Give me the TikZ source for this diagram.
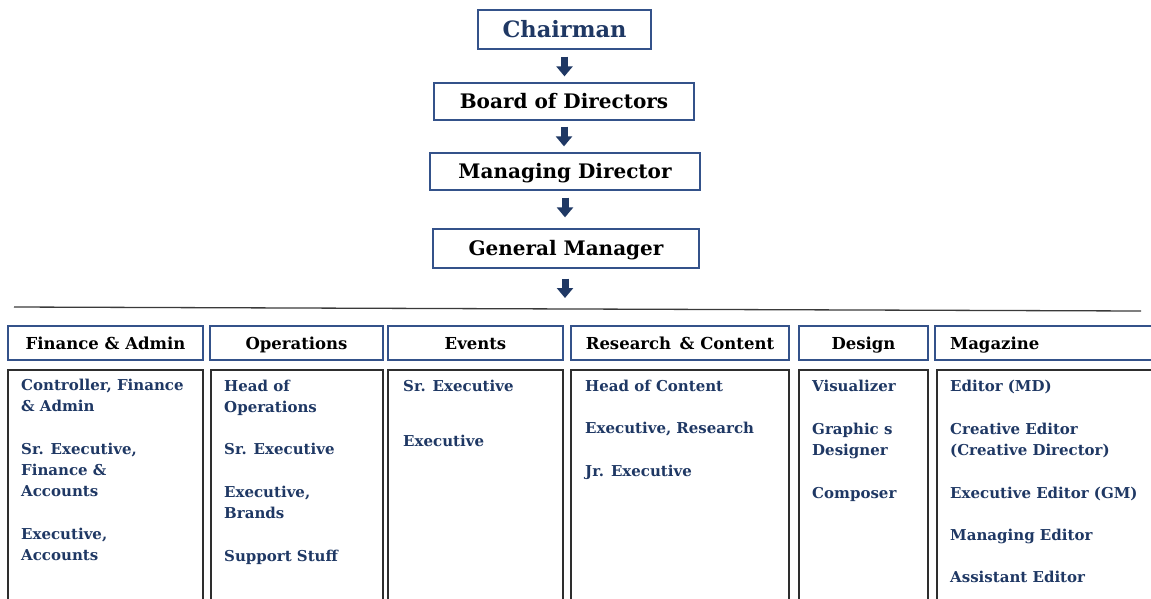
\documentclass[tikz,border=0pt]{standalone}
\usepackage{fontspec}
\setmainfont{DejaVu Serif}
\usetikzlibrary{arrows.meta}
\definecolor{navy}{HTML}{1F3864}
\definecolor{boxblue}{HTML}{34528A}
\definecolor{boxgray}{HTML}{2E2E2E}
\definecolor{rulegray}{HTML}{3A3A3A}
\begin{document}
\begin{tikzpicture}[x=1pt,y=-1pt,
  topbox/.style={draw=boxblue, line width=1.3pt, inner sep=0pt, text=black,
    text height=15.2pt, text depth=0.3pt,
    font=\bfseries\fontsize{20}{24}\selectfont},
  hdrbox/.style={draw=boxblue, line width=1.3pt, inner sep=0pt, minimum height=34pt, text=black,
    text height=12.5pt, text depth=0.3pt,
    font=\bfseries\fontsize{16.5}{20}\selectfont},
  bodybox/.style={draw=boxgray, line width=1.3pt, inner sep=0pt, minimum height=250pt},
  item/.style={anchor=base west, inner sep=0pt, align=left, text=navy,
    font=\bfseries\fontsize{15}{21}\selectfont},
  blockarrow/.style={draw=navy, line width=7pt, -{Triangle[width=16pt,length=10pt]}},
  hrule/.style={draw=rulegray, line width=1.3pt}
]
\useasboundingbox (0,0) rectangle (1151,598);
% top chain
\node[topbox, minimum width=173pt, minimum height=39pt, text=navy, text height=17pt,
  font=\bfseries\fontsize{22.5}{26}\selectfont] (chair) at (564.5,29.5) {Chairman};
\node[topbox, minimum width=260pt, minimum height=37pt] (board) at (564,101.5) {Board of Directors};
\node[topbox, minimum width=270pt, minimum height=37pt] (md) at (565,171.5) {Managing Director};
\node[topbox, minimum width=266pt, minimum height=39pt] (gm) at (566,248.5) {General Manager};
\coordinate (hl0) at (14,307);
\coordinate (hl1) at (1141,311);
\coordinate (hlarrow) at (565,298);
\draw[hrule] (hl0) -- (hl1);
\draw[blockarrow] ([yshift=-7pt]chair.south) -- ([yshift=6pt]chair.south |- board.north);
\draw[blockarrow] ([yshift=-6pt]board.south) -- ([yshift=6pt]board.south |- md.north);
\draw[blockarrow] ([yshift=-7pt]md.south) -- ([yshift=11pt]md.south |- gm.north);
\draw[blockarrow] ([yshift=-10pt]gm.south -| hlarrow) -- (hlarrow);
% headers
\node[hdrbox, minimum width=195pt] (hfin) at (105.5,343) {Finance \& Admin};
\node[hdrbox, minimum width=173pt] (hops) at (296.5,343) {Operations};
\node[hdrbox, minimum width=175pt] (hevt) at (475.5,343) {Events};
\node[hdrbox, minimum width=218pt] (hres) at (680,343) {Research\, \& Content};
\node[hdrbox, minimum width=129pt] (hdes) at (863.5,343) {Design};
\node[hdrbox, minimum width=225pt, text width=195pt, align=left, inner xsep=15pt] (hmag) at (1047.5,343) {Magazine};
% bodies
\node[bodybox, minimum width=195pt] (bfin) at (105.5,495) {};
\node[bodybox, minimum width=172pt] (bops) at (297,495) {};
\node[bodybox, minimum width=175pt] (bevt) at (475.5,495) {};
\node[bodybox, minimum width=218pt] (bres) at (680,495) {};
\node[bodybox, minimum width=129pt] (bdes) at (863.5,495) {};
\node[bodybox, minimum width=223pt] (bmag) at (1048.5,495) {};
% items (anchored at the baseline of their last line)
\node[item] (fin1) at (21,411) {Controller, Finance\\\& Admin};
\node[item] (fin2) at (21,496) {Sr. Executive,\\Finance \&\\Accounts};
\node[item] (fin3) at (21,560) {Executive,\\Accounts};
\node[item] (ops1) at (224,412) {Head of\\Operations};
\node[item] (ops2) at (224,454) {Sr. Executive};
\node[item] (ops3) at (224,518) {Executive,\\Brands};
\node[item] (ops4) at (224,561) {Support Stuff};
\node[item] (evt1) at (403,391) {Sr. Executive};
\node[item] (evt2) at (403,446) {Executive};
\node[item] (res1) at (585,391) {Head of Content};
\node[item] (res2) at (585,433) {Executive, Research};
\node[item] (res3) at (585,476) {Jr. Executive};
\node[item] (des1) at (812,391) {Visualizer};
\node[item] (des2) at (812,455) {Graphic s\\Designer};
\node[item] (des3) at (812,498) {Composer};
\node[item] (mag1) at (950,391) {Editor (MD)};
\node[item] (mag2) at (950,455) {Creative Editor\\(Creative Director)};
\node[item] (mag3) at (950,498) {Executive Editor (GM)};
\node[item] (mag4) at (950,540) {Managing Editor};
\node[item] (mag5) at (950,582) {Assistant Editor};
\end{tikzpicture}
\end{document}
